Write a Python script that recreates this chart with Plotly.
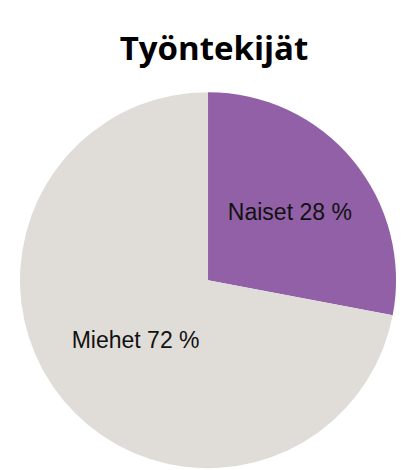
import plotly.graph_objects as go

labels = ["Naiset", "Miehet"]
values = [28, 72]
colors = ["#9160A6", "#E0DDD8"]

fig = go.Figure(go.Pie(
    labels=labels, values=values, sort=False, direction="clockwise", rotation=0,
    marker=dict(colors=colors, line=dict(width=0)),
    texttemplate="%{label} %{value} %", textposition="inside",
    insidetextorientation="horizontal",
    textfont=dict(family="Liberation Sans, Arial", size=23, color="#111111"),
    domain=dict(x=[0.029, 0.942], y=[0.021, 0.821]),
    hoverinfo="label+percent", showlegend=False,
))
fig.update_layout(
    width=412, height=470, margin=dict(l=0, r=0, t=0, b=0),
    paper_bgcolor="white",
    title=dict(text="<b>Työntekijät</b>", x=0.5, xanchor="center", y=0.915, yanchor="middle",
               font=dict(family="Open Sans, DejaVu Sans", size=33, color="black")),
)
fig.write_html("out.html")
